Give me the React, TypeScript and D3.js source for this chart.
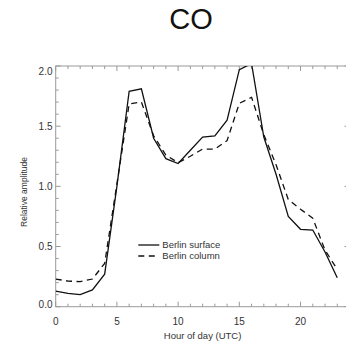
import { useEffect, useRef } from 'react'
import * as d3 from 'd3'

// hour of day (UTC)
const hours = [0, 1, 2, 3, 4, 5, 6, 7, 8, 9, 10, 11, 12, 13, 14, 15, 16, 17, 18, 19, 20, 21, 22, 23]
const surface = [0.13, 0.11, 0.1, 0.14, 0.27, 1.0, 1.79, 1.81, 1.4, 1.23, 1.19, 1.3, 1.41, 1.42, 1.55, 1.97, 2.02, 1.41, 1.1, 0.75, 0.643, 0.637, 0.455, 0.24]
const column = [0.23, 0.213, 0.208, 0.23, 0.36, 1.02, 1.685, 1.7, 1.42, 1.26, 1.197, 1.25, 1.31, 1.31, 1.38, 1.69, 1.74, 1.43, 1.18, 0.89, 0.81, 0.735, 0.47, 0.31]
const yTicks = [0, 0.5, 1.0, 1.5, 2.0]
const xTicks = [0, 5, 10, 15, 20]
const legendItems = [
  { label: 'Berlin surface', dash: '' },
  { label: 'Berlin column', dash: '6,4.5' },
]

export default function App() {
  const svgRef = useRef<SVGSVGElement | null>(null)

  useEffect(() => {
    if (!svgRef.current) return
    const svg = d3.select(svgRef.current)
    svg.selectAll('*').remove()

    const left = 55.7, right = 349.5, top = 66, bottom = 306.7
    const x = d3.scaleLinear().domain([0, 24]).range([left, right])
    const y = d3.scaleLinear().domain([0, 2]).range([bottom, top])
    const font = '"Liberation Sans", Arial, Helvetica, sans-serif'
    const axisColor = '#9a9a9a'

    svg.append('text').attr('x', 191).attr('y', 29).attr('text-anchor', 'middle')
      .attr('font-family', font).attr('font-size', 29).attr('fill', '#111').text('CO')

    // frame
    svg.append('rect').attr('x', left).attr('y', top)
      .attr('width', right - left).attr('height', bottom - top)
      .attr('fill', 'none').attr('stroke', axisColor).attr('stroke-width', 1)

    // inward ticks on all four sides
    const tg = svg.append('g').attr('stroke', axisColor).attr('stroke-width', 1)
    d3.range(0, 25).forEach(h => {
      const len = h % 5 === 0 ? 5 : 3
      tg.append('line').attr('x1', x(h)).attr('x2', x(h)).attr('y1', bottom).attr('y2', bottom - len)
      tg.append('line').attr('x1', x(h)).attr('x2', x(h)).attr('y1', top).attr('y2', top + len)
    })
    d3.range(0, 21).forEach(i => {
      const v = i / 10
      const len = i % 5 === 0 ? 5 : 3
      tg.append('line').attr('x1', left).attr('x2', left + len).attr('y1', y(v)).attr('y2', y(v))
      tg.append('line').attr('x1', right).attr('x2', right - len).attr('y1', y(v)).attr('y2', y(v))
    })

    // tick labels
    xTicks.forEach(t => {
      svg.append('text').attr('x', x(t)).attr('y', 325.3).attr('text-anchor', 'middle')
        .attr('font-family', font).attr('font-size', 10).attr('fill', '#333').text(String(t))
    })
    yTicks.forEach(t => {
      const yy = Math.max(top + 8.5, Math.min(bottom + 1.6, y(t) + 3.8))
      svg.append('text').attr('x', 52.5).attr('y', yy).attr('text-anchor', 'end')
        .attr('font-family', font).attr('font-size', 10).attr('fill', '#333').text(t.toFixed(1))
    })

    svg.append('text').attr('x', 202.6).attr('y', 339).attr('text-anchor', 'middle')
      .attr('font-family', font).attr('font-size', 9.5).attr('fill', '#333').text('Hour of day (UTC)')
    svg.append('text').attr('transform', 'translate(26.5,192) rotate(-90)').attr('text-anchor', 'middle')
      .attr('font-family', font).attr('font-size', 8.5).attr('fill', '#333').text('Relative amplitude')

    // curves
    const clip = svg.append('clipPath').attr('id', 'plot-clip')
    clip.append('rect').attr('x', left).attr('y', top).attr('width', right - left).attr('height', bottom - top)
    const line = d3.line<number>().x((_, i) => x(hours[i])).y(d => y(d))
    const cg = svg.append('g').attr('clip-path', 'url(#plot-clip)')
    cg.append('path').datum(surface).attr('d', line).attr('fill', 'none')
      .attr('stroke', '#111').attr('stroke-width', 1.3)
    cg.append('path').datum(column).attr('d', line).attr('fill', 'none')
      .attr('stroke', '#111').attr('stroke-width', 1.3).attr('stroke-dasharray', '6,4.5')

    // legend
    legendItems.forEach((item, i) => {
      const ly = 245 + i * 11
      svg.append('line').attr('x1', 138.3).attr('x2', 159.3).attr('y1', ly).attr('y2', ly)
        .attr('stroke', '#111').attr('stroke-width', 1.3)
        .attr('stroke-dasharray', item.dash || 'none')
      svg.append('text').attr('x', 162.3).attr('y', ly + 3.4)
        .attr('font-family', font).attr('font-size', 9.5).attr('fill', '#333').text(item.label)
    })
  }, [])

  return (
    <svg ref={svgRef} width={346} height={346}
      style={{ position: 'absolute', left: 0, top: 0, background: '#fff' }} />
  )
}
